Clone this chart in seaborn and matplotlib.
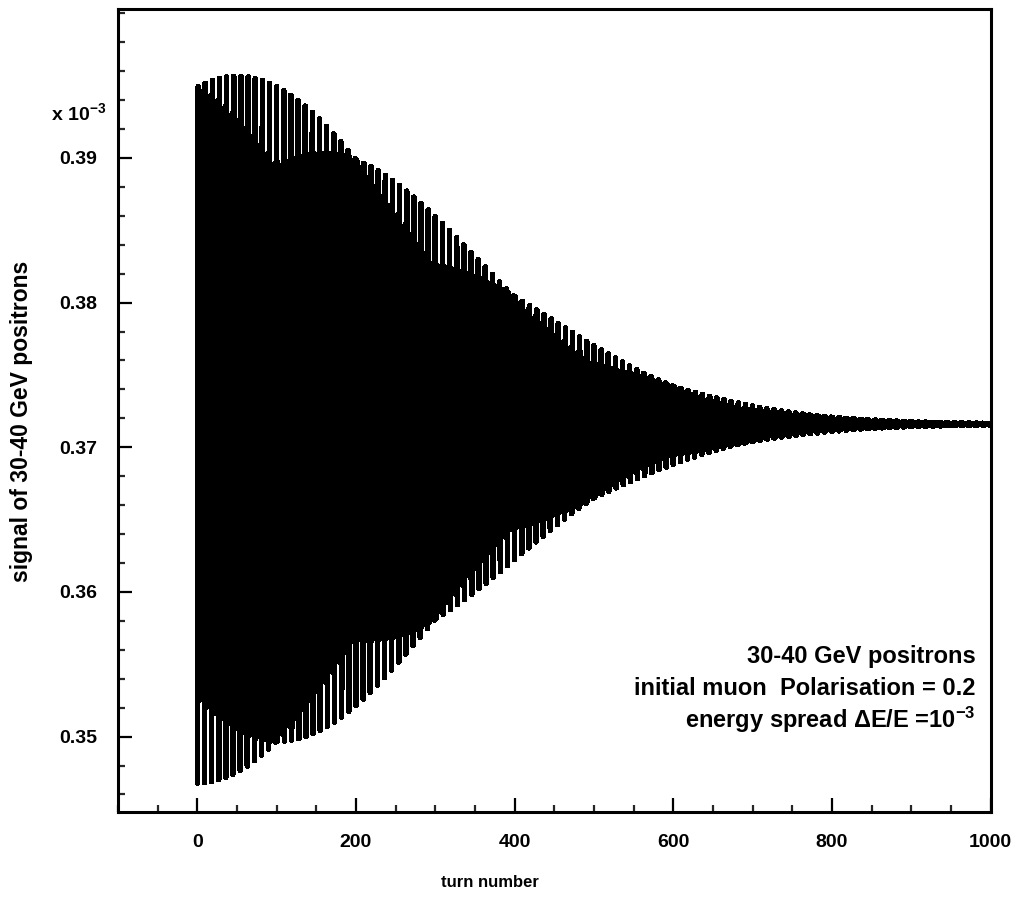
import numpy as np
import pandas as pd
import matplotlib
matplotlib.use("Agg")
import matplotlib.pyplot as plt
from matplotlib.ticker import MultipleLocator, FixedLocator
import seaborn as sns

# --- beam / signal parameters (signal in units of 1e-3) ---
n_turns = 1000
baseline_level = 0.3716        # asymptotic signal level
initial_amplitude = 0.0248     # polarisation-driven oscillation amplitude at turn 0
a_gamma = 0.555                # spin tune seen once per turn
energy_spread = 1e-3           # dE/E, Gaussian

# axis tick values
x_major = [0, 200, 400, 600, 800, 1000]
y_major = [0.35, 0.36, 0.37, 0.38, 0.39]
y_labels = ["0.35", "0.36", "0.37", "0.38", "0.39"]

annotation_lines = [
    "30-40 GeV positrons",
    "initial muon  Polarisation = 0.2",
    r"energy spread $\mathbf{\Delta}$E/E =10$^{\mathbf{-3}}$",
]

# signal sampled once per turn: precession decoheres through the energy spread
turn = np.arange(0, n_turns + 1)
phase = 2 * np.pi * a_gamma * turn
decoherence = np.exp(-0.5 * (2 * np.pi * a_gamma * energy_spread * turn) ** 2)
signal = baseline_level - initial_amplitude * decoherence * np.cos(phase)
df = pd.DataFrame({"turn": turn, "signal": signal})

sns.set_style("ticks")
plt.rcParams["font.family"] = ["Liberation Sans", "DejaVu Sans"]
plt.rcParams["font.weight"] = "bold"
plt.rcParams["mathtext.fontset"] = "custom"
plt.rcParams["mathtext.rm"] = "Liberation Sans:bold"
plt.rcParams["mathtext.bf"] = "Liberation Sans:bold"
plt.rcParams["mathtext.it"] = "Liberation Sans:bold"

fig = plt.figure(figsize=(10.17, 9.0), dpi=100)
ax = fig.add_axes([0.116, 0.098, 0.858, 0.892])

sns.lineplot(data=df, x="turn", y="signal", color="black", linewidth=3.3,
             estimator=None, sort=False, antialiased=False,
             solid_joinstyle="round", solid_capstyle="round", ax=ax)

ax.set_xlim(-100, 1000)
ax.set_ylim(0.3448, 0.4003)

ax.xaxis.set_major_locator(FixedLocator(x_major))
ax.xaxis.set_minor_locator(MultipleLocator(50))
ax.yaxis.set_major_locator(FixedLocator(y_major))
ax.yaxis.set_minor_locator(MultipleLocator(0.002))
ax.set_yticklabels(y_labels)

ax.tick_params(axis="both", which="major", direction="in", length=10, width=1.6,
               labelsize=14, pad=15, colors="black")
ax.tick_params(axis="both", which="minor", direction="in", length=5, width=1.6)
ax.tick_params(axis="x", which="major", pad=16)
ax.tick_params(axis="y", which="both", right=False)
ax.tick_params(axis="x", which="both", top=False)
for lab in ax.get_xticklabels() + ax.get_yticklabels():
    lab.set_fontweight("bold")

for side in ["left", "right", "top", "bottom"]:
    ax.spines[side].set_visible(True)
    ax.spines[side].set_linewidth(2.2)
    ax.spines[side].set_color("black")

ax.set_xlabel("")
ax.set_ylabel("")
fig.text(0.482, 0.019, "turn number", ha="center", va="center",
         fontsize=12, fontweight="bold", color="black")
fig.text(0.021, 0.532, "signal of 30-40 GeV positrons", ha="center", va="center",
         rotation=90, fontsize=16.5, fontweight="bold", color="black")
fig.text(0.104, 0.874, r"x 10$^{\mathbf{-3}}$", ha="right", va="center",
         fontsize=14, fontweight="bold", color="black")

for i, line in enumerate(annotation_lines):
    fig.text(0.959, 0.271 - 0.0355 * i, line, ha="right", va="center",
             fontsize=17, fontweight="bold", color="black")

fig.savefig("out.png", dpi=100)
